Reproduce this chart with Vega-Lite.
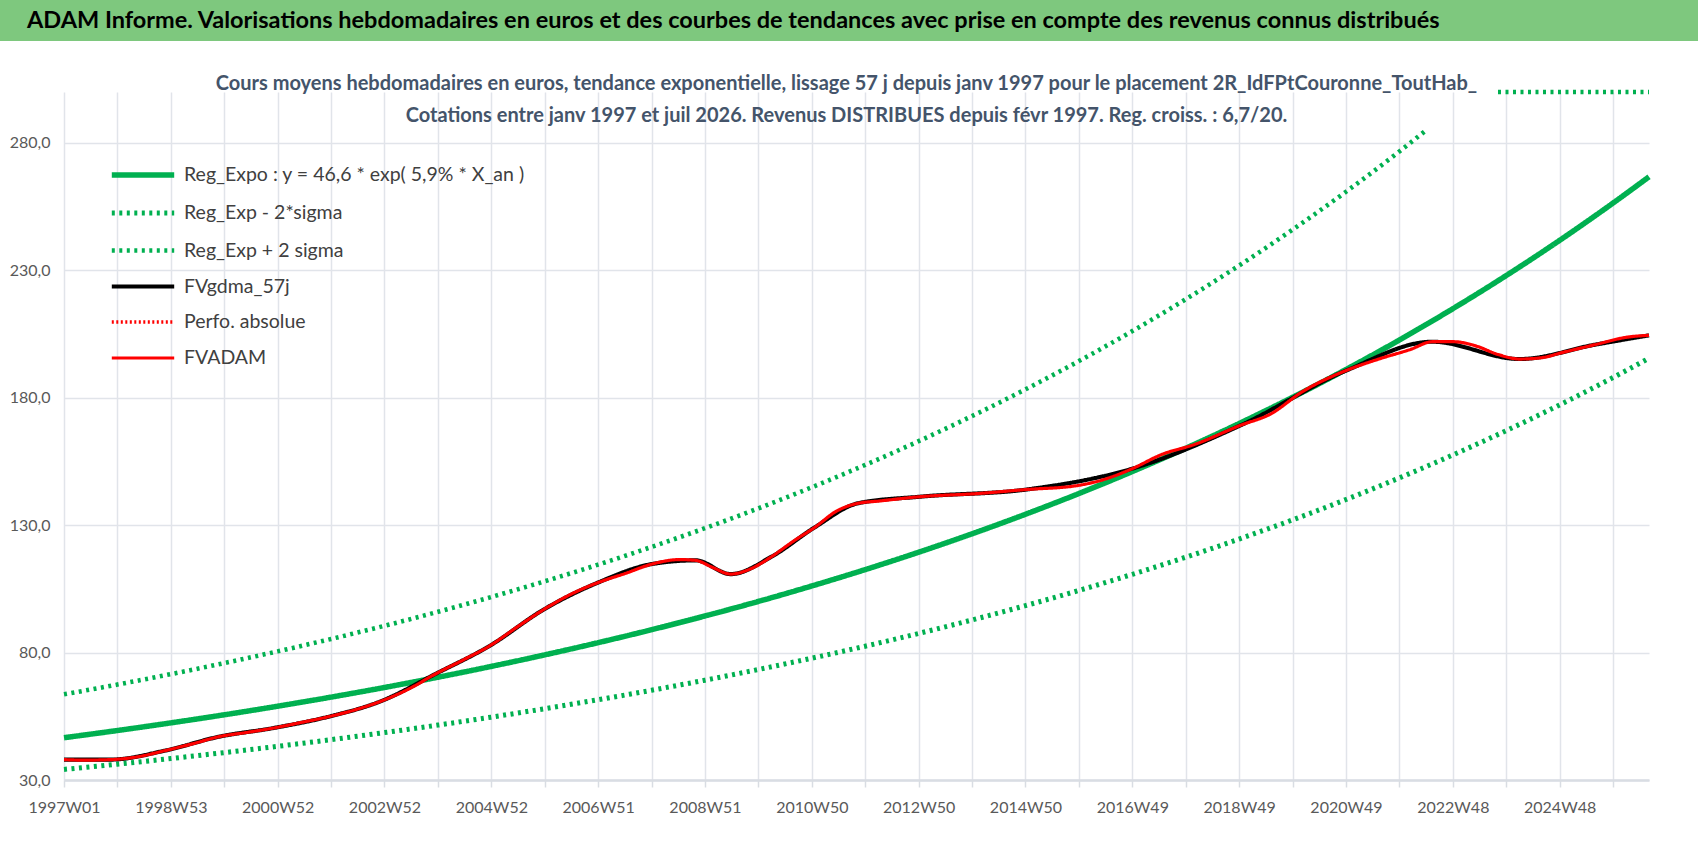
{
  "$schema": "https://vega.github.io/schema/vega-lite/v6.json",
  "padding": 0,
  "background": "white",
  "columns": 1,
  "spacing": 33,
  "datasets": {
    "bandes": [
      {"s": "Reg_Exp - 2*sigma", "seg": "a", "w": 0, "v": 34.16},
      {"s": "Reg_Exp - 2*sigma", "seg": "a", "w": 52, "v": 36.22},
      {"s": "Reg_Exp - 2*sigma", "seg": "a", "w": 104, "v": 38.42},
      {"s": "Reg_Exp - 2*sigma", "seg": "a", "w": 156, "v": 40.75},
      {"s": "Reg_Exp - 2*sigma", "seg": "a", "w": 208, "v": 43.22},
      {"s": "Reg_Exp - 2*sigma", "seg": "a", "w": 260, "v": 45.83},
      {"s": "Reg_Exp - 2*sigma", "seg": "a", "w": 312, "v": 48.61},
      {"s": "Reg_Exp - 2*sigma", "seg": "a", "w": 364, "v": 51.55},
      {"s": "Reg_Exp - 2*sigma", "seg": "a", "w": 416, "v": 54.67},
      {"s": "Reg_Exp - 2*sigma", "seg": "a", "w": 468, "v": 57.99},
      {"s": "Reg_Exp - 2*sigma", "seg": "a", "w": 520, "v": 61.5},
      {"s": "Reg_Exp - 2*sigma", "seg": "a", "w": 572, "v": 65.22},
      {"s": "Reg_Exp - 2*sigma", "seg": "a", "w": 624, "v": 69.17},
      {"s": "Reg_Exp - 2*sigma", "seg": "a", "w": 676, "v": 73.36},
      {"s": "Reg_Exp - 2*sigma", "seg": "a", "w": 728, "v": 77.81},
      {"s": "Reg_Exp - 2*sigma", "seg": "a", "w": 780, "v": 82.51},
      {"s": "Reg_Exp - 2*sigma", "seg": "a", "w": 832, "v": 87.51},
      {"s": "Reg_Exp - 2*sigma", "seg": "a", "w": 884, "v": 92.81},
      {"s": "Reg_Exp - 2*sigma", "seg": "a", "w": 936, "v": 98.43},
      {"s": "Reg_Exp - 2*sigma", "seg": "a", "w": 988, "v": 104.39},
      {"s": "Reg_Exp - 2*sigma", "seg": "a", "w": 1040, "v": 110.72},
      {"s": "Reg_Exp - 2*sigma", "seg": "a", "w": 1092, "v": 117.43},
      {"s": "Reg_Exp - 2*sigma", "seg": "a", "w": 1144, "v": 124.54},
      {"s": "Reg_Exp - 2*sigma", "seg": "a", "w": 1196, "v": 132.08},
      {"s": "Reg_Exp - 2*sigma", "seg": "a", "w": 1248, "v": 140.08},
      {"s": "Reg_Exp - 2*sigma", "seg": "a", "w": 1300, "v": 148.56},
      {"s": "Reg_Exp - 2*sigma", "seg": "a", "w": 1352, "v": 157.56},
      {"s": "Reg_Exp - 2*sigma", "seg": "a", "w": 1404, "v": 167.1},
      {"s": "Reg_Exp - 2*sigma", "seg": "a", "w": 1456, "v": 177.22},
      {"s": "Reg_Exp - 2*sigma", "seg": "a", "w": 1508, "v": 187.96},
      {"s": "Reg_Exp - 2*sigma", "seg": "a", "w": 1543, "v": 195.51},
      {"s": "Reg_Exp + 2 sigma", "seg": "a", "w": 0, "v": 63.61},
      {"s": "Reg_Exp + 2 sigma", "seg": "a", "w": 52, "v": 67.46},
      {"s": "Reg_Exp + 2 sigma", "seg": "a", "w": 104, "v": 71.55},
      {"s": "Reg_Exp + 2 sigma", "seg": "a", "w": 156, "v": 75.88},
      {"s": "Reg_Exp + 2 sigma", "seg": "a", "w": 208, "v": 80.48},
      {"s": "Reg_Exp + 2 sigma", "seg": "a", "w": 260, "v": 85.35},
      {"s": "Reg_Exp + 2 sigma", "seg": "a", "w": 312, "v": 90.51},
      {"s": "Reg_Exp + 2 sigma", "seg": "a", "w": 364, "v": 96.0},
      {"s": "Reg_Exp + 2 sigma", "seg": "a", "w": 416, "v": 101.82},
      {"s": "Reg_Exp + 2 sigma", "seg": "a", "w": 468, "v": 107.99},
      {"s": "Reg_Exp + 2 sigma", "seg": "a", "w": 520, "v": 114.52},
      {"s": "Reg_Exp + 2 sigma", "seg": "a", "w": 572, "v": 121.46},
      {"s": "Reg_Exp + 2 sigma", "seg": "a", "w": 624, "v": 128.82},
      {"s": "Reg_Exp + 2 sigma", "seg": "a", "w": 676, "v": 136.61},
      {"s": "Reg_Exp + 2 sigma", "seg": "a", "w": 728, "v": 144.89},
      {"s": "Reg_Exp + 2 sigma", "seg": "a", "w": 780, "v": 153.66},
      {"s": "Reg_Exp + 2 sigma", "seg": "a", "w": 832, "v": 162.97},
      {"s": "Reg_Exp + 2 sigma", "seg": "a", "w": 884, "v": 172.84},
      {"s": "Reg_Exp + 2 sigma", "seg": "a", "w": 936, "v": 183.31},
      {"s": "Reg_Exp + 2 sigma", "seg": "a", "w": 988, "v": 194.4},
      {"s": "Reg_Exp + 2 sigma", "seg": "a", "w": 1040, "v": 206.18},
      {"s": "Reg_Exp + 2 sigma", "seg": "a", "w": 1092, "v": 218.67},
      {"s": "Reg_Exp + 2 sigma", "seg": "a", "w": 1144, "v": 231.91},
      {"s": "Reg_Exp + 2 sigma", "seg": "a", "w": 1196, "v": 245.96},
      {"s": "Reg_Exp + 2 sigma", "seg": "a", "w": 1248, "v": 260.85},
      {"s": "Reg_Exp + 2 sigma", "seg": "a", "w": 1300, "v": 276.66},
      {"s": "Reg_Exp + 2 sigma", "seg": "a", "w": 1327, "v": 285.3},
      {"s": "Reg_Exp + 2 sigma", "seg": "b", "w": 1396, "v": 300},
      {"s": "Reg_Exp + 2 sigma", "seg": "b", "w": 1543, "v": 300},
      {"s": "Reg_Expo", "seg": "a", "w": 0, "v": 46.6},
      {"s": "Reg_Expo", "seg": "a", "w": 52, "v": 49.42},
      {"s": "Reg_Expo", "seg": "a", "w": 104, "v": 52.42},
      {"s": "Reg_Expo", "seg": "a", "w": 156, "v": 55.59},
      {"s": "Reg_Expo", "seg": "a", "w": 208, "v": 58.96},
      {"s": "Reg_Expo", "seg": "a", "w": 260, "v": 62.53},
      {"s": "Reg_Expo", "seg": "a", "w": 312, "v": 66.31},
      {"s": "Reg_Expo", "seg": "a", "w": 364, "v": 70.33},
      {"s": "Reg_Expo", "seg": "a", "w": 416, "v": 74.59},
      {"s": "Reg_Expo", "seg": "a", "w": 468, "v": 79.11},
      {"s": "Reg_Expo", "seg": "a", "w": 520, "v": 83.9},
      {"s": "Reg_Expo", "seg": "a", "w": 572, "v": 88.98},
      {"s": "Reg_Expo", "seg": "a", "w": 624, "v": 94.37},
      {"s": "Reg_Expo", "seg": "a", "w": 676, "v": 100.08},
      {"s": "Reg_Expo", "seg": "a", "w": 728, "v": 106.15},
      {"s": "Reg_Expo", "seg": "a", "w": 780, "v": 112.57},
      {"s": "Reg_Expo", "seg": "a", "w": 832, "v": 119.39},
      {"s": "Reg_Expo", "seg": "a", "w": 884, "v": 126.62},
      {"s": "Reg_Expo", "seg": "a", "w": 936, "v": 134.29},
      {"s": "Reg_Expo", "seg": "a", "w": 988, "v": 142.42},
      {"s": "Reg_Expo", "seg": "a", "w": 1040, "v": 151.05},
      {"s": "Reg_Expo", "seg": "a", "w": 1092, "v": 160.2},
      {"s": "Reg_Expo", "seg": "a", "w": 1144, "v": 169.9},
      {"s": "Reg_Expo", "seg": "a", "w": 1196, "v": 180.19},
      {"s": "Reg_Expo", "seg": "a", "w": 1248, "v": 191.1},
      {"s": "Reg_Expo", "seg": "a", "w": 1300, "v": 202.68},
      {"s": "Reg_Expo", "seg": "a", "w": 1352, "v": 214.95},
      {"s": "Reg_Expo", "seg": "a", "w": 1404, "v": 227.97},
      {"s": "Reg_Expo", "seg": "a", "w": 1456, "v": 241.78},
      {"s": "Reg_Expo", "seg": "a", "w": 1508, "v": 256.42},
      {"s": "Reg_Expo", "seg": "a", "w": 1543, "v": 266.72}
    ],
    "cours": [
      {"s": "FVgdma_57j", "w": 0, "v": 38.0},
      {"s": "FVgdma_57j", "w": 45, "v": 38.0},
      {"s": "FVgdma_57j", "w": 98, "v": 41.5},
      {"s": "FVgdma_57j", "w": 151, "v": 47.0},
      {"s": "FVgdma_57j", "w": 204, "v": 50.4},
      {"s": "FVgdma_57j", "w": 256, "v": 54.7},
      {"s": "FVgdma_57j", "w": 309, "v": 61.0},
      {"s": "FVgdma_57j", "w": 362, "v": 71.7},
      {"s": "FVgdma_57j", "w": 415, "v": 82.8},
      {"s": "FVgdma_57j", "w": 467, "v": 96.9},
      {"s": "FVgdma_57j", "w": 520, "v": 107.5},
      {"s": "FVgdma_57j", "w": 573, "v": 114.8},
      {"s": "FVgdma_57j", "w": 615, "v": 116.2},
      {"s": "FVgdma_57j", "w": 649, "v": 110.8},
      {"s": "FVgdma_57j", "w": 689, "v": 117.7},
      {"s": "FVgdma_57j", "w": 731, "v": 129.2},
      {"s": "FVgdma_57j", "w": 773, "v": 138.6},
      {"s": "FVgdma_57j", "w": 834, "v": 141.2},
      {"s": "FVgdma_57j", "w": 937, "v": 144.0},
      {"s": "FVgdma_57j", "w": 1040, "v": 152.2},
      {"s": "FVgdma_57j", "w": 1146, "v": 169.3},
      {"s": "FVgdma_57j", "w": 1250, "v": 191.0},
      {"s": "FVgdma_57j", "w": 1332, "v": 202.0},
      {"s": "FVgdma_57j", "w": 1417, "v": 195.2},
      {"s": "FVgdma_57j", "w": 1490, "v": 200.8},
      {"s": "FVgdma_57j", "w": 1543, "v": 204.5},
      {"s": "FVADAM", "w": 0, "v": 38.0},
      {"s": "FVADAM", "w": 20, "v": 37.8},
      {"s": "FVADAM", "w": 45, "v": 38.0},
      {"s": "FVADAM", "w": 70, "v": 39.0},
      {"s": "FVADAM", "w": 98, "v": 41.5},
      {"s": "FVADAM", "w": 125, "v": 44.2},
      {"s": "FVADAM", "w": 151, "v": 47.0},
      {"s": "FVADAM", "w": 180, "v": 48.8},
      {"s": "FVADAM", "w": 204, "v": 50.4},
      {"s": "FVADAM", "w": 230, "v": 52.5},
      {"s": "FVADAM", "w": 256, "v": 54.7},
      {"s": "FVADAM", "w": 283, "v": 57.5},
      {"s": "FVADAM", "w": 309, "v": 61.0},
      {"s": "FVADAM", "w": 336, "v": 65.8},
      {"s": "FVADAM", "w": 362, "v": 71.7},
      {"s": "FVADAM", "w": 389, "v": 77.2},
      {"s": "FVADAM", "w": 415, "v": 82.8},
      {"s": "FVADAM", "w": 441, "v": 90.0},
      {"s": "FVADAM", "w": 467, "v": 96.9},
      {"s": "FVADAM", "w": 494, "v": 103.0},
      {"s": "FVADAM", "w": 520, "v": 107.5},
      {"s": "FVADAM", "w": 546, "v": 111.0},
      {"s": "FVADAM", "w": 573, "v": 114.8},
      {"s": "FVADAM", "w": 599, "v": 116.5},
      {"s": "FVADAM", "w": 615, "v": 116.2},
      {"s": "FVADAM", "w": 631, "v": 113.5},
      {"s": "FVADAM", "w": 649, "v": 110.8},
      {"s": "FVADAM", "w": 668, "v": 112.8},
      {"s": "FVADAM", "w": 689, "v": 117.7},
      {"s": "FVADAM", "w": 710, "v": 123.7},
      {"s": "FVADAM", "w": 731, "v": 129.2},
      {"s": "FVADAM", "w": 752, "v": 135.5},
      {"s": "FVADAM", "w": 773, "v": 138.6},
      {"s": "FVADAM", "w": 794, "v": 139.5},
      {"s": "FVADAM", "w": 834, "v": 141.2},
      {"s": "FVADAM", "w": 889, "v": 142.4},
      {"s": "FVADAM", "w": 937, "v": 144.0},
      {"s": "FVADAM", "w": 984, "v": 145.4},
      {"s": "FVADAM", "w": 1016, "v": 148.4},
      {"s": "FVADAM", "w": 1040, "v": 152.2},
      {"s": "FVADAM", "w": 1069, "v": 157.8},
      {"s": "FVADAM", "w": 1100, "v": 161.6},
      {"s": "FVADAM", "w": 1146, "v": 169.3},
      {"s": "FVADAM", "w": 1174, "v": 173.5},
      {"s": "FVADAM", "w": 1206, "v": 182.5},
      {"s": "FVADAM", "w": 1250, "v": 191.0},
      {"s": "FVADAM", "w": 1280, "v": 195.2},
      {"s": "FVADAM", "w": 1311, "v": 199.0},
      {"s": "FVADAM", "w": 1332, "v": 202.0},
      {"s": "FVADAM", "w": 1353, "v": 202.0},
      {"s": "FVADAM", "w": 1374, "v": 200.4},
      {"s": "FVADAM", "w": 1396, "v": 197.0},
      {"s": "FVADAM", "w": 1417, "v": 195.2},
      {"s": "FVADAM", "w": 1438, "v": 195.7},
      {"s": "FVADAM", "w": 1459, "v": 197.8},
      {"s": "FVADAM", "w": 1490, "v": 200.8},
      {"s": "FVADAM", "w": 1522, "v": 203.8},
      {"s": "FVADAM", "w": 1543, "v": 204.5}
    ]
  },
  "concat": [
    {
      "width": 1634,
      "height": 41,
      "view": {"stroke": null},
      "data": {"values": [{"titre": "ADAM Informe. Valorisations hebdomadaires en euros et des courbes de tendances avec prise en compte des revenus connus distribués"}]},
      "encoding": {
        "x": {"datum": 0, "type": "quantitative", "scale": {"domain": [0, 1], "range": [-64, 1634]}, "axis": null}
      },
      "layer": [
        {
          "mark": {"type": "rect", "color": "#7EC87E", "clip": false},
          "encoding": {
            "x2": {"datum": 1},
            "y": {"datum": 0, "type": "quantitative", "scale": {"domain": [0, 1]}, "axis": null},
            "y2": {"datum": 1}
          }
        },
        {
          "mark": {"type": "text", "align": "left", "baseline": "middle", "dx": 27, "font": "Lato", "fontSize": 23.5, "fontWeight": "bold", "color": "black"},
          "encoding": {
            "y": {"datum": 0.5, "type": "quantitative"},
            "text": {"field": "titre"}
          }
        }
      ]
    },
    {
      "width": 1585,
      "height": 688,
      "title": {
        "text": [
          "Cours moyens hebdomadaires en euros, tendance exponentielle, lissage 57 j depuis janv 1997 pour le placement 2R_IdFPtCouronne_ToutHab_",
          "Cotations entre janv 1997 et juil 2026. Revenus DISTRIBUES depuis févr 1997. Reg. croiss. : 6,7/20."
        ],
        "anchor": "middle",
        "frame": "group",
        "font": "Lato",
        "fontSize": 20,
        "fontWeight": "bold",
        "color": "#44546A",
        "lineHeight": 32,
        "baseline": "bottom",
        "offset": -63.5,
        "dx": -10
      },
      "encoding": {
        "x": {
          "field": "w",
          "type": "quantitative",
          "scale": {"domain": [0, 1543], "nice": false, "zero": false},
          "axis": {
            "title": null,
            "values": [0, 52, 104, 156, 208, 260, 312, 364, 416, 468, 520, 572, 624, 676, 728, 780, 832, 884, 936, 988, 1040, 1092, 1144, 1196, 1248, 1300, 1352, 1404, 1456, 1508],
            "labelExpr": "datum.value % 104 === 0 ? utcFormat(utc(1996, 11, 30) + datum.value * 604800000, '%GW%V') : ''",
            "labelOverlap": false,
            "labelFlush": false,
            "grid": true,
            "gridColor": "#E1E4EA",
            "gridWidth": 1.5,
            "domainColor": "#D9DDE3",
            "domainWidth": 2.5,
            "ticks": true,
            "tickColor": "#D9DDE3",
            "tickWidth": 1.5,
            "tickSize": 7,
            "labelPadding": 12,
            "labelFont": "Lato",
            "labelFontSize": 16,
            "labelColor": "#595959"
          }
        },
        "y": {
          "field": "v",
          "type": "quantitative",
          "scale": {"domain": [30, 300], "nice": false, "zero": false},
          "axis": {
            "title": null,
            "values": [30, 80, 130, 180, 230, 280],
            "labelExpr": "replace(format(datum.value, '.1f'), '.', ',')",
            "grid": true,
            "gridColor": "#E1E4EA",
            "gridWidth": 1.5,
            "domain": false,
            "ticks": false,
            "labelPadding": 14,
            "minExtent": 64,
            "labelFont": "Lato",
            "labelFontSize": 16,
            "labelColor": "#595959"
          }
        },
        "color": {
          "field": "s",
          "type": "nominal",
          "scale": {
            "domain": ["Reg_Expo", "Reg_Exp - 2*sigma", "Reg_Exp + 2 sigma", "FVgdma_57j", "Perfo. absolue", "FVADAM"],
            "range": ["#00B050", "#00B050", "#00B050", "#000000", "#FF0000", "#FF0000"]
          },
          "legend": {
            "title": null,
            "orient": "none",
            "legendX": 52,
            "legendY": 148,
            "symbolType": "M-1.3,0H1.3",
            "symbolSize": 2304,
            "labelExpr": "datum.label === 'Reg_Expo' ? 'Reg_Expo : y = 46,6 * exp( 5,9% *  X_an )' : datum.label",
            "labelFont": "Lato",
            "labelFontSize": 19.5,
            "labelColor": "#404040",
            "labelOffset": 14,
            "labelLimit": 600,
            "rowPadding": 0
          }
        },
        "strokeDash": {
          "field": "s",
          "type": "nominal",
          "scale": {
            "domain": ["Reg_Expo", "Reg_Exp - 2*sigma", "Reg_Exp + 2 sigma", "FVgdma_57j", "Perfo. absolue", "FVADAM"],
            "range": [[1, 0], [3, 4.5], [3, 4.5], [1, 0], [2, 2.5], [1, 0]]
          },
          "legend": null
        },
        "strokeWidth": {
          "field": "s",
          "type": "nominal",
          "scale": {
            "domain": ["Reg_Expo", "Reg_Exp - 2*sigma", "Reg_Exp + 2 sigma", "FVgdma_57j", "Perfo. absolue", "FVADAM"],
            "range": [5.5, 3.2, 3.2, 3.5, 2, 4.5]
          },
          "legend": null
        }
      },
      "layer": [
        {
          "data": {"name": "bandes"},
          "mark": {"type": "line", "interpolate": "monotone"},
          "encoding": {"detail": {"field": "seg"}}
        },
        {
          "data": {"name": "cours"},
          "mark": {"type": "line", "interpolate": "monotone"}
        }
      ]
    }
  ],
  "config": {
    "view": {"stroke": null},
    "legend": {"labelFont": "Lato"}
  }
}
